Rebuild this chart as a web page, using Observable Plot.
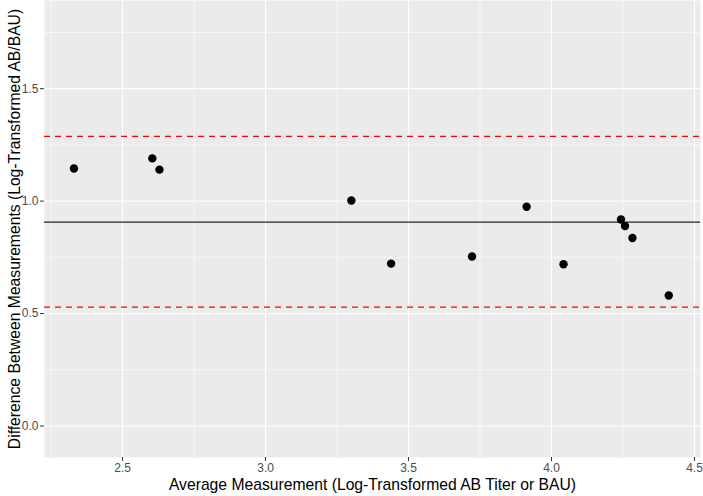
<!DOCTYPE html>
<html>
<head>
<meta charset="utf-8">
<script src="https://cdn.jsdelivr.net/npm/d3@7"></script>
<script src="https://cdn.jsdelivr.net/npm/@observablehq/plot@0.6"></script>
<style>
  html, body { margin: 0; padding: 0; background: #fff; }
  svg { font-family: "Liberation Sans", Arial, sans-serif; }
</style>
</head>
<body>
<div id="chart"></div>
<script>
const avgMeasurement = [2.33, 2.604, 2.629, 3.30, 3.439, 3.722, 3.913, 4.042, 4.243, 4.257, 4.283, 4.41];
const diffMeasurement = [1.145, 1.190, 1.140, 1.003, 0.722, 0.754, 0.975, 0.719, 0.918, 0.889, 0.836, 0.580];
const meanDiff = 0.907;
const upperLimit = 1.288;
const lowerLimit = 0.529;
const xMajor = [2.5, 3.0, 3.5, 4.0, 4.5];
const xMinor = [2.25, 2.75, 3.25, 3.75, 4.25];
const yMajor = [0.0, 0.5, 1.0, 1.5];
const yMinor = [0.25, 0.75, 1.25, 1.75];
const xTitle = "Average Measurement (Log-Transformed AB Titer or BAU)";
const yTitle = "Difference Between Measurements (Log-Transformed AB/BAU)";

const data = avgMeasurement.map((x, i) => ({x, y: diffMeasurement[i]}));

const chart = Plot.plot({
  width: 703,
  height: 457 + 39,
  marginLeft: 44,
  marginRight: 3,
  marginTop: 0,
  marginBottom: 39,
  style: {fontFamily: "'Liberation Sans', Arial, sans-serif", background: "#fff"},
  x: {domain: [2.227, 4.521]},
  y: {domain: [-0.14, 1.892]},
  marks: [
    Plot.frame({fill: "#ebebeb", stroke: null}),
    Plot.gridX(xMinor, {stroke: "#fff", strokeOpacity: 1, strokeWidth: 0.6}),
    Plot.gridY(yMinor, {stroke: "#fff", strokeOpacity: 1, strokeWidth: 0.6}),
    Plot.gridX(xMajor, {stroke: "#fff", strokeOpacity: 1, strokeWidth: 1.2}),
    Plot.gridY(yMajor, {stroke: "#fff", strokeOpacity: 1, strokeWidth: 1.2}),
    Plot.axisX(xMajor, {tickSize: 4, tickPadding: 2, stroke: "#333", fill: "#4d4d4d", fontSize: 12, label: null, tickFormat: d3.format(".1f")}),
    Plot.axisY(yMajor, {tickSize: 4, tickPadding: 2, stroke: "#333", fill: "#4d4d4d", fontSize: 12, label: null, tickFormat: d3.format(".1f")}),
    Plot.ruleY([meanDiff], {stroke: "#222", strokeWidth: 1.3}),
    Plot.ruleY([upperLimit, lowerLimit], {stroke: "#ff0000", strokeWidth: 1.3, strokeDasharray: "6,5"}),
    Plot.dot(data, {x: "x", y: "y", r: 4.2, fill: "#000", stroke: null}),
    Plot.text([xTitle], {frameAnchor: "bottom", textAnchor: "middle", dy: 32, fontSize: 15.7, fill: "#000"}),
    Plot.text([yTitle], {frameAnchor: "left", textAnchor: "middle", rotate: -90, dx: -30, fontSize: 15.7, fill: "#000"})
  ]
});
document.getElementById("chart").appendChild(chart);
</script>
</body>
</html>
